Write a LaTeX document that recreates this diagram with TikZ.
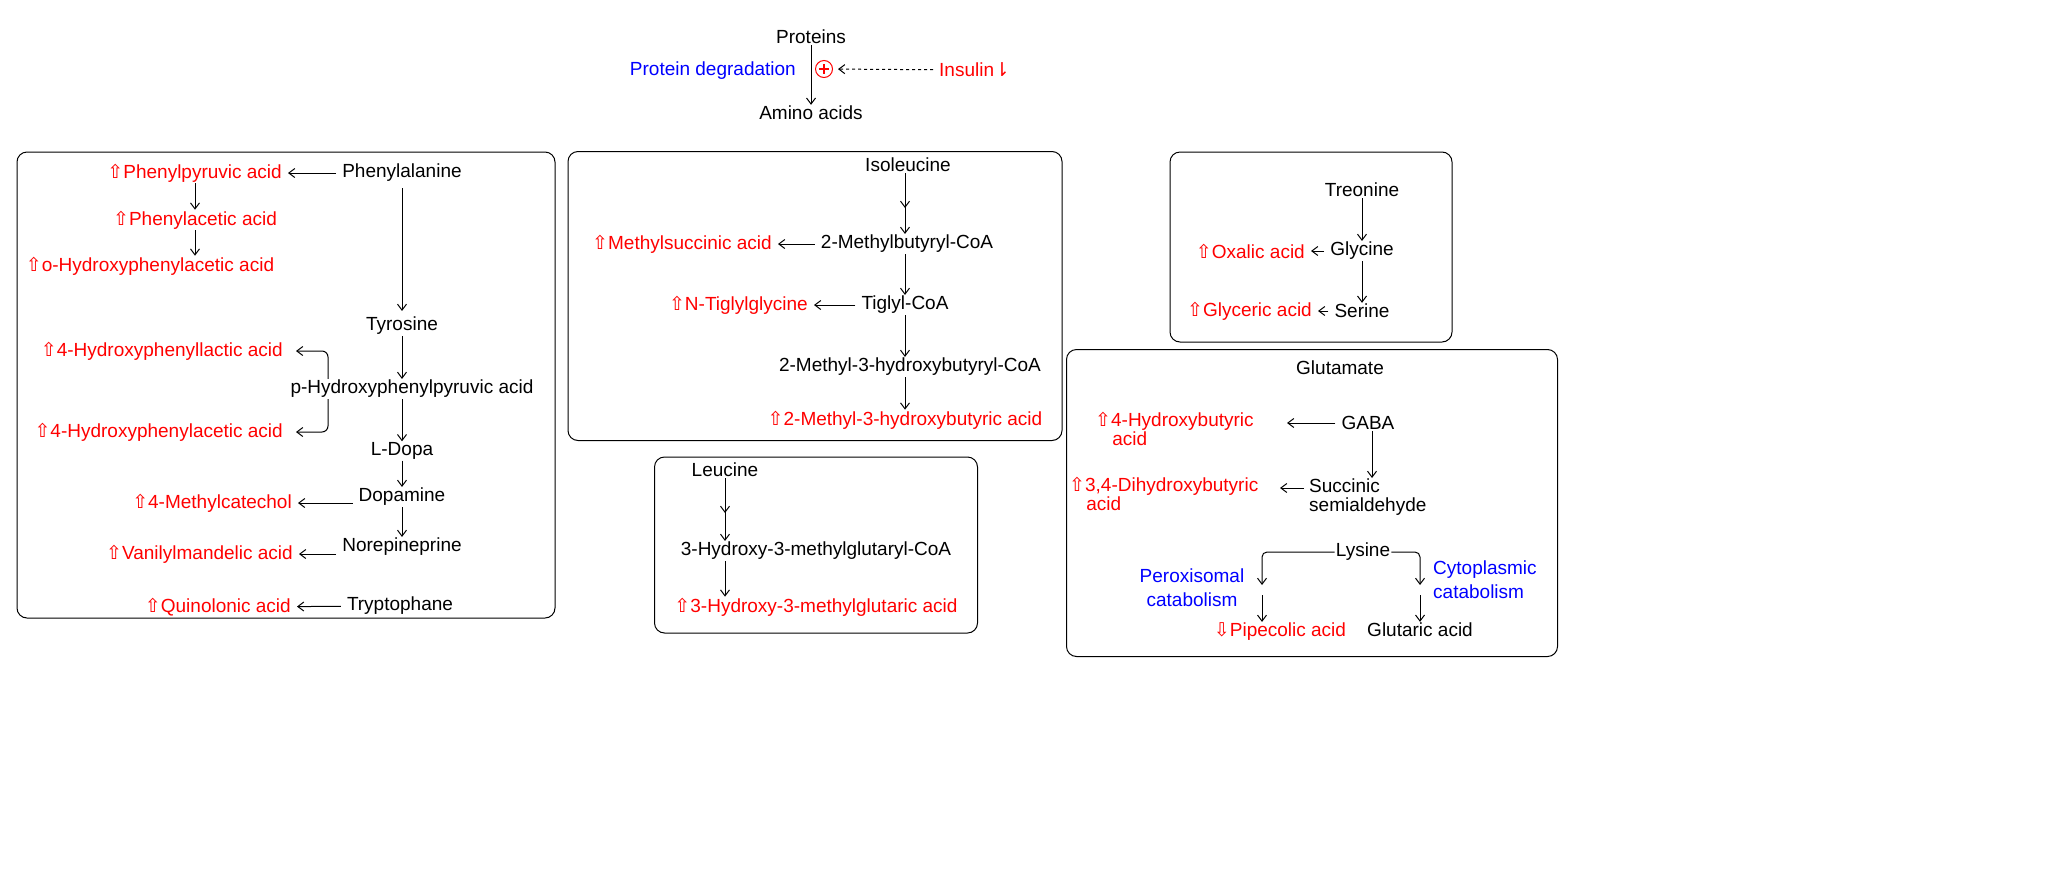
\documentclass[tikz,border=0pt]{standalone}
\usepackage{fontspec}
\setmainfont{Liberation Sans}
\newfontfamily\djv{DejaVu Sans}
\usetikzlibrary{arrows.meta,calc}
\newcommand{\up}{{\djv ⇧}}
\newcommand{\dn}{{\djv ⇩}}
\begin{document}
\begin{tikzpicture}[x=1pt,y=-1pt,font=\fontsize{19}{22}\selectfont,
 t/.style={inner sep=1pt},
 r/.style={t,text=red},
 b/.style={t,text=blue},
 box/.style={draw,rounded corners=10pt,line width=1pt},
 a/.style={-{Straight Barb[length=6pt,width=9pt]},line width=1pt,shorten >=5pt,shorten <=5pt},
 a0/.style={-{Straight Barb[length=6pt,width=9pt]},line width=1pt}]
\useasboundingbox (0,0) rectangle (2059,871);
% top
\node[t] (prot) at (811,37) {Proteins};
\node[t] (aa) at (811,113) {Amino acids};
\node[b,anchor=east] (pd) at (797,71) {Protein degradation};
\node[r,circle,draw=red,line width=1pt,inner sep=0pt,minimum size=17pt] (cp) at (824,69) {};
\draw[red,line width=1.2pt] ($(cp)+(-5,0)$) -- ($(cp)+(5,0)$) ($(cp)+(0,-5)$) -- ($(cp)+(0,5)$);
\node[r,anchor=west] (ins) at (938,70) {Insulin{\djv ⇂}};
\draw[a0] (prot) -- (aa);
\draw[a,dashed] (ins) -- (cp);
% box 1
\node[box,minimum width=538pt,minimum height=466pt] (b1) at (286,385) {};
\node[t] (phe) at (402,173) {Phenylalanine};
\node[r,anchor=east] (ppa) at (283,173) {\up Phenylpyruvic acid};
\node[r] (pa) at (195,220) {\up Phenylacetic acid};
\node[r] (opa) at (150,266) {\up o-Hydroxyphenylacetic acid};
\node[t] (tyr) at (402,326) {Tyrosine};
\node[t] (php) at (412,389) {p-Hydroxyphenylpyruvic acid};
\node[r,anchor=east] (hpl) at (284,351) {\up 4-Hydroxyphenyllactic acid};
\node[r,anchor=east] (hpa) at (284,432) {\up 4-Hydroxyphenylacetic acid};
\node[t] (ld) at (402,451) {L-Dopa};
\node[t] (dop) at (402,497) {Dopamine};
\node[t] (nor) at (402,547) {Norepineprine};
\node[t] (try) at (400,606) {Tryptophane};
\node[r,anchor=east] (mc) at (293,503) {\up 4-Methylcatechol};
\node[r,anchor=east] (vma) at (294,554) {\up Vanilylmandelic acid};
\node[r,anchor=east] (qa) at (292,607) {\up Quinolonic acid};
\draw[a] (phe) -- (ppa);
\draw[a0] (ppa.south -| pa) -- (pa);
\draw[a0] (pa) -- (opa.north -| pa);
\draw[a] (phe) -- (tyr);
\draw[a0] (tyr.south) -- (tyr.south |- php.north);
\coordinate (br1) at (328,351);
\coordinate (br2) at (328,432);
\draw[a0,rounded corners=6pt] (br1 |- php.north) -- (br1) -- ([xshift=12pt]hpl.east);
\draw[a0,rounded corners=6pt] (br2 |- php.south) -- (br2) -- ([xshift=12pt]hpa.east);
\draw[a0] (tyr.south |- php.south) -- (ld);
\draw[a0] (ld) -- (dop);
\draw[a0] (dop) -- (nor);
\draw[a] (dop.west |- mc) -- (mc);
\draw[a] (nor.west |- vma) -- (vma);
\draw[a] (try) -- (qa);
% box 2
\node[box,minimum width=494pt,minimum height=289pt] (b2) at (815,296) {};
\node[t] (ile) at (908,165) {Isoleucine};
\coordinate (i1) at (905,203);
\node[t] (mbc) at (907,244) {2-Methylbutyryl-CoA};
\node[r,anchor=east] (msa) at (773,244) {\up Methylsuccinic acid};
\node[t] (tig) at (905,305) {Tiglyl-CoA};
\node[r,anchor=east] (ntg) at (809,305) {\up N-Tiglylglycine};
\node[t] (mhc) at (910,367) {2-Methyl-3-hydroxybutyryl-CoA};
\node[r] (mha) at (905,420) {\up 2-Methyl-3-hydroxybutyric acid};
\draw[a0] (ile.south -| i1) -- ([yshift=-5pt]i1);
\draw[a0] ([yshift=3pt]i1) -- (mbc.north -| i1);
\draw[a] (mbc) -- (msa);
\draw[a0] (mbc.south -| i1) -- (tig.north -| i1);
\draw[a] (tig) -- (ntg);
\draw[a0] (tig.south -| i1) -- (mhc.north -| i1);
\draw[a0] (mhc.south -| i1) -- (mha.north -| i1);
% box 3
\node[box,minimum width=323pt,minimum height=176pt] (b3) at (816,545) {};
\node[t] (leu) at (725,470) {Leucine};
\coordinate (l1) at (725,508);
\node[t] (hmc) at (816,551) {3-Hydroxy-3-methylglutaryl-CoA};
\node[r] (hma) at (816,607) {\up 3-Hydroxy-3-methylglutaric acid};
\draw[a0] (leu) -- ([yshift=-5pt]l1);
\draw[a0] ([yshift=3pt]l1) -- (hmc.north -| l1);
\draw[a0] (hmc.south -| l1) -- (hma.north -| l1);
% box 4
\node[box,minimum width=282pt,minimum height=190pt] (b4) at (1311,247) {};
\node[t] (thr) at (1362,190) {Treonine};
\node[t] (gly) at (1362,251) {Glycine};
\node[t] (ser) at (1362,311) {Serine};
\node[r,anchor=east] (oxa) at (1306,251) {\up Oxalic acid};
\node[r,anchor=east] (gla) at (1313,311) {\up Glyceric acid};
\draw[a0] (thr) -- (gly);
\draw[a0] (gly) -- (ser);
\draw[a] (gly) -- (oxa);
\draw[a] (ser) -- (gla);
% box 5
\node[box,minimum width=491pt,minimum height=307pt] (b5) at (1312,503) {};
\node[t] (glu) at (1340,368) {Glutamate};
\node[t] (gaba) at (1368,423) {GABA};
\node[r,align=left,anchor=north west,font=\fontsize{19}{20}\selectfont] (hba) at (1094,411) {\up 4-Hydroxybutyric\\[-1pt]\hspace*{0.9em}acid};
\node[t,align=left,anchor=north west,font=\fontsize{19}{20}\selectfont] (ssa) at (1308,478) {Succinic\\[-1pt]semialdehyde};
\node[r,align=left,anchor=north west,font=\fontsize{19}{20}\selectfont] (dhb) at (1068,476) {\up 3,4-Dihydroxybutyric\\[-1pt]\hspace*{0.9em}acid};
\coordinate (hbe) at (1287,423);
\coordinate (dhs) at (1304,488);
\coordinate (dhe) at (1280,488);
\draw[a0] ([xshift=-5pt]gaba.west) -- (hbe);
\draw[a0] (gaba.south -| 1372,0) -- (ssa.north -| 1372,0);
\draw[a0] (dhs) -- (dhe);
\node[t] (lys) at (1363,552) {Lysine};
\coordinate (p1) at (1262,552);
\coordinate (c1) at (1420,552);
\draw[a0,rounded corners=5pt] (lys.west) -- (p1) -- (1262,585);
\draw[a0,rounded corners=5pt] (lys.east) -- (c1) -- (1420,585);
\node[b,align=center,font=\fontsize{19}{24}\selectfont] (per) at (1192,588) {Peroxisomal\\catabolism};
\node[b,align=left,anchor=west,font=\fontsize{19}{24}\selectfont] (cyt) at (1432,580) {Cytoplasmic\\catabolism};
\node[r] (pip) at (1280,632) {\dn Pipecolic acid};
\node[t] (gta) at (1420,630) {Glutaric acid};
\draw[a0] (1262,595) -- (pip.north -| p1);
\draw[a0] (1420,595) -- (gta.north -| c1);
\end{tikzpicture}
\end{document}
